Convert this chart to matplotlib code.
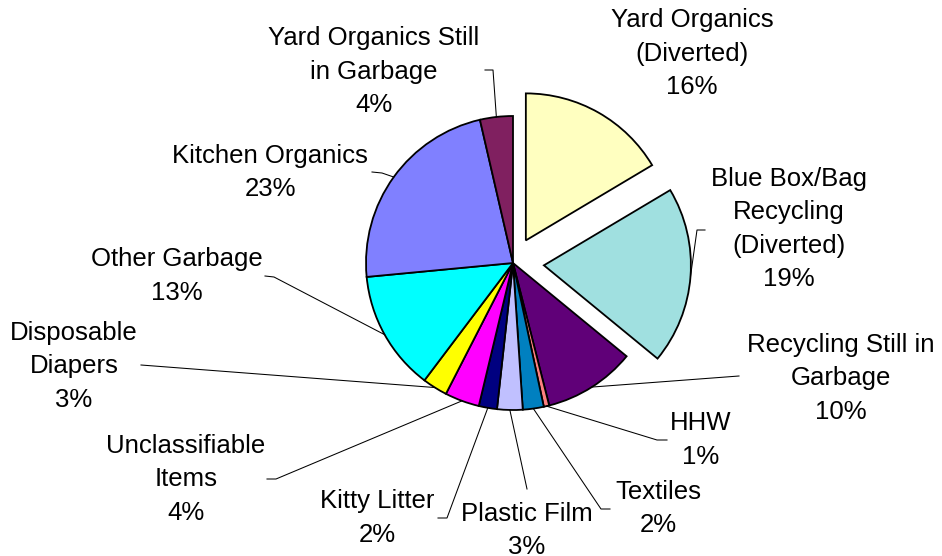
import numpy as np
import matplotlib.pyplot as plt

plt.rcParams['font.family'] = ['Liberation Sans', 'DejaVu Sans']

# 폐기물 구성 비율 (%), 12시 방향부터 시계 방향
categories = ['Yard Organics\n(Diverted)', 'Blue Box/Bag\nRecycling\n(Diverted)',
              'Recycling Still in\nGarbage', 'HHW', 'Textiles', 'Plastic Film',
              'Kitty Litter', 'Unclassifiable\nItems', 'Disposable\nDiapers',
              'Other Garbage', 'Kitchen Organics', 'Yard Organics Still\nin Garbage']
shares = [16.45, 19.49, 10.1, 0.6, 2.3, 2.8, 2.0, 3.8, 2.75, 13.2, 22.9, 3.61]

colors = ['#FFFFC0', '#A0E0E0', '#600078', '#FF8080', '#0080C0', '#C0C0FF',
          '#000080', '#FF00FF', '#FFFF00', '#00FFFF', '#8080FF', '#802060']
explode_px = [26, 31, 0, 0, 0, 0, 0, 0, 0, 0, 0, 0]

W, H = 942, 556
cx, cy, r = 513, 263, 147   # 픽셀 좌표 (y는 위에서부터)

# 라벨 위치 (가운데 x, 첫 줄 위쪽 y)와 지시선 꺾임점
label_xy = [(692, 8), (789, 167), (841, 333), (701, 411), (658, 480), (527, 502),
            (377, 489), (186, 434), (74, 321), (177, 247), (270, 144), (374, 26)]
leaders = [None,
           [(705, 230), (697, 230)],
           [(739, 376)],
           [(667, 440), (657, 440)],
           [(610, 509), (601, 509)],
           [(527, 489)],
           [(438, 518), (447, 518)],
           [(267, 479), (276, 479)],
           [(141, 365)],
           [(265, 276), (274, 277)],
           [(372, 172), (382, 173)],
           [(485, 70), (493, 70)]]


def Y(y):
    return H - y


fig = plt.figure(figsize=(W / 100, H / 100), dpi=100)
ax = fig.add_axes([0, 0, 1, 1])

wedges, _ = ax.pie(shares, colors=colors, explode=explode_px, startangle=90,
                   counterclock=False, center=(cx, Y(cy)), radius=r,
                   wedgeprops=dict(edgecolor='black', linewidth=1.3))

total = sum(shares)
for w, name, v, (tx, ty), pts in zip(wedges, categories, shares, label_xy, leaders):
    ax.text(tx, Y(ty), f"{name}\n{round(v / total * 100)}%", ha='center', va='top',
            multialignment='center', fontsize=18.5, linespacing=1.5)
    if pts is None:
        continue
    # 지시선은 조각의 중간 각도 위 가장자리에서 끝남
    th = np.deg2rad((w.theta1 + w.theta2) / 2)
    ax_x = w.center[0] + r * np.cos(th)
    ax_y = w.center[1] + r * np.sin(th)
    xs = [p[0] for p in pts] + [ax_x]
    ys = [Y(p[1]) for p in pts] + [ax_y]
    ax.plot(xs, ys, color='black', lw=0.75)

ax.set_xlim(0, W)
ax.set_ylim(0, H)
ax.axis('off')

fig.savefig('out.png', dpi=100, facecolor='white')
